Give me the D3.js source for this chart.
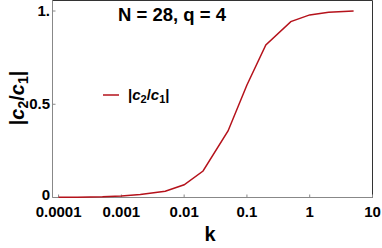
<!DOCTYPE html>
<html>
<head>
<meta charset="utf-8">
<script src="https://cdn.jsdelivr.net/npm/d3@7"></script>
<style>
  body { margin: 0; background: #fff; }
  text { font-family: "Liberation Sans", Arial, sans-serif; }
</style>
</head>
<body>
<div id="chart-div"></div>
<script>
// data
const kValues = [0.0001, 0.0002, 0.0005, 0.001, 0.002, 0.005, 0.01, 0.02, 0.05, 0.1, 0.2, 0.5, 1, 2, 5];
const ratioValues = [0.001, 0.002, 0.004, 0.008, 0.016, 0.034, 0.068, 0.142, 0.357, 0.603, 0.818, 0.943, 0.979, 0.993, 1.0];
const xTicks = [0.0001, 0.001, 0.01, 0.1, 1, 10];
const xTickLabels = ["0.0001", "0.001", "0.01", "0.1", "1", "10"];
const yTicks = [0, 0.5, 1];
const yTickLabels = ["0", "0.5", "1."];

const width = 382;
const height = 248;
const plotLeft = 52.5, plotRight = 372.5, plotTop = 0.5, plotBottom = 197.5;

const xScale = d3.scaleLog().domain([0.00008, 10]).range([plotLeft, plotRight]);
// 1 sits at y=11, 0 at the bottom frame
const yScale = d3.scaleLinear().domain([0, 1]).range([plotBottom, 11]);

const svg = d3.select("#chart-div")
              .append("svg")
              .attr("width", width)
              .attr("height", height);

// frame: left/bottom grey, top/right dark
svg.append("line").attr("x1", plotLeft).attr("x2", plotLeft).attr("y1", plotTop).attr("y2", plotBottom)
   .attr("stroke", "#888").attr("stroke-width", 1);
svg.append("line").attr("x1", plotLeft).attr("x2", plotRight).attr("y1", plotBottom).attr("y2", plotBottom)
   .attr("stroke", "#888").attr("stroke-width", 1);
svg.append("line").attr("x1", plotLeft).attr("x2", plotRight).attr("y1", plotTop).attr("y2", plotTop)
   .attr("stroke", "#333").attr("stroke-width", 1);
svg.append("line").attr("x1", plotRight).attr("x2", plotRight).attr("y1", plotTop).attr("y2", plotBottom)
   .attr("stroke", "#333").attr("stroke-width", 1);

// x ticks (inward) + labels
const xg = svg.append("g");
xg.selectAll("line")
  .data(xTicks)
  .enter()
  .append("line")
  .attr("x1", d => xScale(d)).attr("x2", d => xScale(d))
  .attr("y1", plotBottom).attr("y2", plotBottom - 3)
  .attr("stroke", "#888");
xg.selectAll("text")
  .data(xTicks)
  .enter()
  .append("text")
  .attr("x", d => xScale(d))
  .attr("y", 217)
  .attr("text-anchor", "middle")
  .attr("font-size", 15)
  .attr("font-weight", "bold")
  .text((d, i) => xTickLabels[i]);

// y ticks + labels
const yg = svg.append("g");
yg.selectAll("line")
  .data(yTicks)
  .enter()
  .append("line")
  .attr("x1", plotLeft).attr("x2", plotLeft + 3)
  .attr("y1", d => yScale(d)).attr("y2", d => yScale(d))
  .attr("stroke", "#888");
yg.selectAll("text")
  .data(yTicks)
  .enter()
  .append("text")
  .attr("x", 50)
  .attr("y", d => Math.min(yScale(d) + 5, 199.5))
  .attr("text-anchor", "end")
  .attr("font-size", 15)
  .attr("font-weight", "bold")
  .text((d, i) => yTickLabels[i]);

// the curve
const line = d3.line()
  .x((d, i) => xScale(kValues[i]))
  .y(d => yScale(d));
svg.append("path")
   .datum(ratioValues)
   .attr("d", line)
   .attr("fill", "none")
   .attr("stroke", "#b5121b")
   .attr("stroke-width", 1.5);

// title
svg.append("text")
   .attr("x", 172).attr("y", 21)
   .attr("text-anchor", "middle")
   .attr("font-size", 18.5)
   .attr("font-weight", "bold")
   .text("N = 28, q = 4");

// axis labels
svg.append("text")
   .attr("x", 210).attr("y", 241)
   .attr("text-anchor", "middle")
   .attr("font-size", 20)
   .attr("font-weight", "bold")
   .text("k");

const yl = svg.append("text")
   .attr("transform", "translate(24,98) rotate(-90)")
   .attr("text-anchor", "middle")
   .attr("font-size", 20)
   .attr("font-weight", "bold");
yl.append("tspan").text("|");
yl.append("tspan").attr("font-style", "italic").text("c");
yl.append("tspan").attr("font-size", 14).attr("dy", 4).text("2");
yl.append("tspan").attr("dy", -4).text("/");
yl.append("tspan").attr("font-style", "italic").text("c");
yl.append("tspan").attr("font-size", 14).attr("dy", 4).text("1");
yl.append("tspan").attr("dy", -4).text("|");

// legend
svg.append("line")
   .attr("x1", 103).attr("x2", 119).attr("y1", 95).attr("y2", 95)
   .attr("stroke", "#b5121b").attr("stroke-width", 1.5);
const lg = svg.append("text")
   .attr("x", 128).attr("y", 100)
   .attr("font-size", 15)
   .attr("font-weight", "bold");
lg.append("tspan").text("|");
lg.append("tspan").attr("font-style", "italic").text("c");
lg.append("tspan").attr("font-size", 11).attr("dy", 3).text("2");
lg.append("tspan").attr("dy", -3).text("/");
lg.append("tspan").attr("font-style", "italic").text("c");
lg.append("tspan").attr("font-size", 11).attr("dy", 3).text("1");
lg.append("tspan").attr("dy", -3).text("|");
</script>
</body>
</html>
